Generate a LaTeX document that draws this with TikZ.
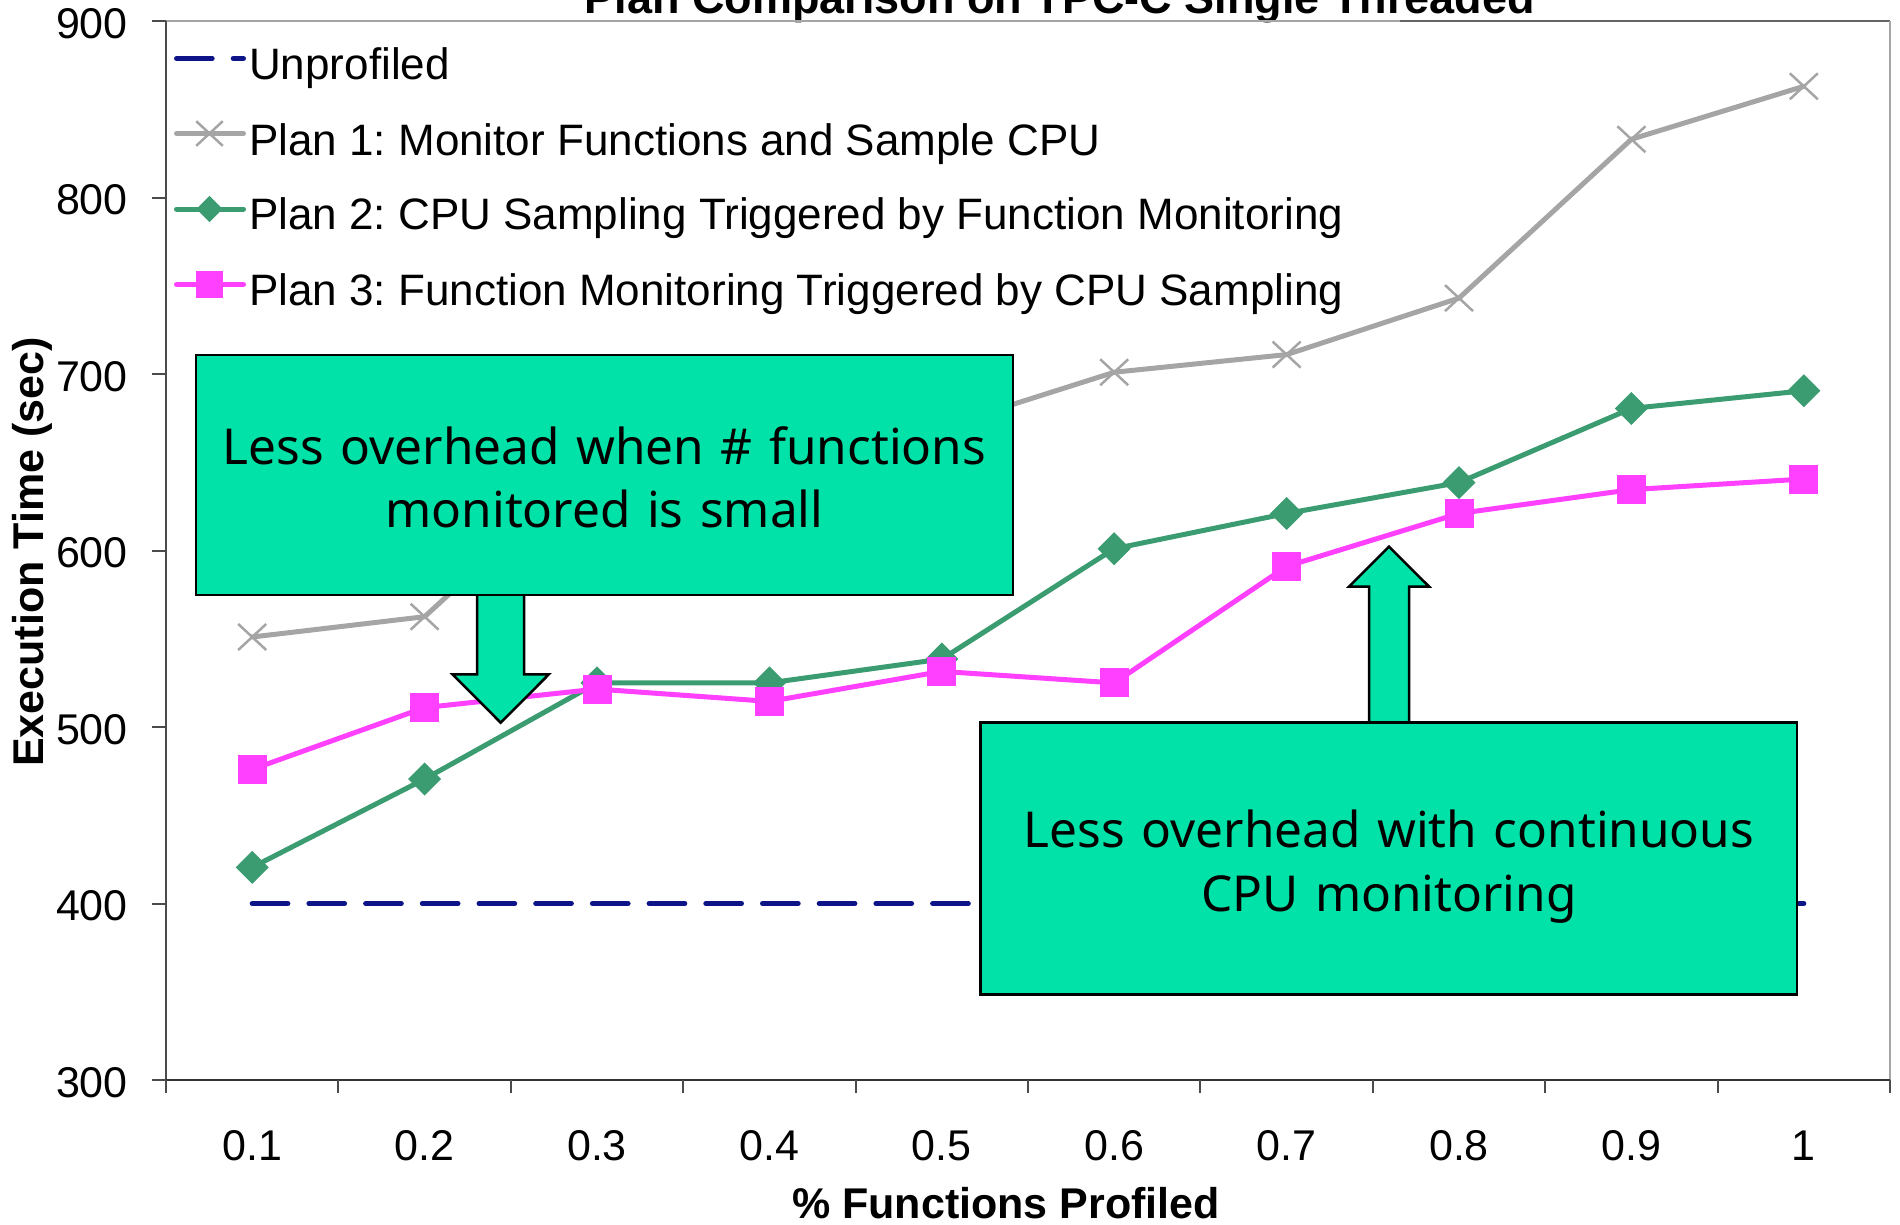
\documentclass[tikz,border=0pt]{standalone}
\usepackage{fontspec}
\setmainfont{Liberation Sans}
\newfontfamily\calloutfont{Noto Sans}
\usetikzlibrary{calc}
\frenchspacing

\definecolor{seriesgray}{RGB}{165,165,165}
\definecolor{seriesgreen}{RGB}{58,156,112}
\definecolor{seriesmagenta}{RGB}{255,64,255}
\definecolor{seriesnavy}{RGB}{12,20,135}
\definecolor{calloutfill}{RGB}{0,226,168}
\definecolor{axisdark}{RGB}{75,75,75}
\definecolor{frameline}{RGB}{165,165,165}
\definecolor{framedark}{RGB}{100,100,100}

\tikzset{
  % series markers, sized in absolute units
  crossmark/.pic={\draw[seriesgray, line width=2.5pt] (-14pt,-13pt) -- (14pt,13pt) (-14pt,13pt) -- (14pt,-13pt);},
  diamondmark/.pic={\fill[seriesgreen] (0pt,-16.5pt) -- (16.5pt,0pt) -- (0pt,16.5pt) -- (-16.5pt,0pt) -- cycle;},
  squaremark/.pic={\fill[seriesmagenta] (-14.5pt,-14.5pt) rectangle (14.5pt,14.5pt);},
  serieslinebase/.style={line width=5pt, line join=round, line cap=round},
  baselineseries/.style={serieslinebase, draw=seriesnavy, dash pattern=on 35.7pt off 21pt},
  planone/.style={serieslinebase, draw=seriesgray},
  plantwo/.style={serieslinebase, draw=seriesgreen},
  planthree/.style={serieslinebase, draw=seriesmagenta},
  axisline/.style={draw=axisdark, line width=2pt},
  ticklabel/.style={font=\fontsize{43}{50}\selectfont, inner sep=0pt},
  legendtext/.style={font=\fontsize{44}{52}\selectfont, anchor=base west, inner sep=0pt},
  axistitle/.style={font=\fontsize{43}{50}\selectfont\bfseries, inner sep=0pt, anchor=base},
  calloutbox/.style={draw=black, line width=2.5pt, fill=calloutfill, rectangle, inner sep=0pt},
  calloutarrow/.style={draw=black, line width=2.5pt, fill=calloutfill, line join=miter},
  callouttext/.style={font=\calloutfont\fontsize{49.5}{63.5}\selectfont, text width=810pt, align=center, inner sep=0pt, anchor=base},
}

\begin{document}
\begin{tikzpicture}[x=1pt,y=-1pt]
\useasboundingbox (0,0) rectangle (1900,1224);
\clip (0,0) rectangle (1900,1224);

% chart title (runs off the top edge)
\node[font=\fontsize{45}{52}\selectfont\bfseries, anchor=base, inner sep=0pt] (title) at (1059.6,13.3) {Plan Comparison on TPC-C Single Threaded};

% axis titles
\node[axistitle] (xtitle) at (1006,1218) {\% Functions Profiled};
\node[axistitle, rotate=90] (ytitle) at (43.3,552) {Execution Time (sec)};

% data space: category k at x, execution time v at y
\begin{scope}[x=172.4pt, y=1.765pt, shift={(79.8pt,-1609.5pt)}]
  % plot frame
  \draw[draw=frameline, line width=2pt] (0.5,900) -- (7.658,900);
  \draw[draw=framedark, line width=2.5pt] (7.658,900) -- (10.5,900);
  \draw[draw=frameline, line width=2pt] (10.5,900) -- (10.5,300);
  \draw[axisline] (0.5,900) -- (0.5,300);
  \draw[axisline, line width=2.5pt, draw=black!80] (0.5,300) -- (10.5,300);

  % value axis ticks and labels
  \foreach \v in {300,400,...,900} {
    \coordinate (yt\v) at (0.5,\v);
    \draw[axisline] (yt\v) -- ++(-14pt,0pt);
    \node[ticklabel, anchor=base east] (ylab\v) at ($(yt\v)+(-38pt,-17pt)$) {\v};
  }
  % category axis ticks and labels
  \foreach \k in {0,...,10} {
    \coordinate (xt\k) at (\k+0.5,300);
    \draw[axisline] (xt\k) -- ++(0pt,-13pt);
  }
  \foreach \k/\lab in {1/0.1,2/0.2,3/0.3,4/0.4,5/0.5,6/0.6,7/0.7,8/0.8,9/0.9,10/1} {
    \node[ticklabel, anchor=base] (xlab\k) at ($(\k,300)+(0pt,-80.7pt)$) {\lab};
  }

  % Unprofiled
  \coordinate (u1) at (1,400);
  \coordinate (u10) at (10,400);
  \draw[baselineseries] (u1) -- (u10);

  % Plan 1
  \foreach \k/\v in {1/551,2/562.5,3/652,4/662,5/670,6/701,7/711,8/743,9/833,10/863}
    \coordinate (a\k) at (\k,\v);
  \draw[planone] (a1) \foreach \k in {2,...,10} {-- (a\k)};
  \foreach \k in {1,...,10} \pic at (a\k) {crossmark};

  % Plan 2
  \foreach \k/\v in {1/420.5,2/470.5,3/525,4/525,5/538.5,6/601,7/621,8/638.5,9/680.5,10/690.5}
    \coordinate (b\k) at (\k,\v);
  \draw[plantwo] (b1) \foreach \k in {2,...,10} {-- (b\k)};
  \foreach \k in {1,...,10} \pic at (b\k) {diamondmark};

  % Plan 3
  \foreach \k/\v in {1/476,2/511,3/521.5,4/514.5,5/531.5,6/525,7/591,8/621,9/634.5,10/640.5}
    \coordinate (c\k) at (\k,\v);
  \draw[planthree] (c1) \foreach \k in {2,...,10} {-- (c\k)};
  \foreach \k in {1,...,10} \pic at (c\k) {squaremark};
\end{scope}

% legend
\coordinate (lg0a) at (176.5,58.5);  \coordinate (lg0b) at (243.5,58.5);
\draw[baselineseries] (lg0a) -- (lg0b);
\node[legendtext] (lgtext0) at (249,79) {Unprofiled};

\coordinate (lg1a) at (176.5,133.5); \coordinate (lg1b) at (243.5,133.5);
\draw[planone] (lg1a) -- (lg1b);
\pic[scale=0.95] at (209.5,133.5) {crossmark};
\node[legendtext] (lgtext1) at (249,155) {Plan 1: Monitor Functions and Sample CPU};

\coordinate (lg2a) at (176.5,209); \coordinate (lg2b) at (243.5,209);
\draw[plantwo] (lg2a) -- (lg2b);
\pic[scale=0.8] at (209.5,209) {diamondmark};
\node[legendtext] (lgtext2) at (249,229.5) {Plan 2: CPU Sampling Triggered by Function Monitoring};

\coordinate (lg3a) at (176.5,284.5); \coordinate (lg3b) at (243.5,284.5);
\draw[planthree] (lg3a) -- (lg3b);
\pic[scale=0.9] at (209.5,284.5) {squaremark};
\node[legendtext] (lgtext3) at (249,305) {Plan 3: Function Monitoring Triggered by CPU Sampling};

% callout: small number of monitored functions
\coordinate (tip1) at (500.7,722.7);
\filldraw[calloutarrow] ($(tip1)+(-23.5,-130)$) -- ($(tip1)+(-23.5,-48.4)$) -- ($(tip1)+(-48.2,-48.4)$)
  -- (tip1) -- ($(tip1)+(48.2,-48.4)$) -- ($(tip1)+(23.5,-48.4)$) -- ($(tip1)+(23.5,-130)$);
\node[calloutbox, minimum width=817pt, minimum height=240pt] (box1) at (604.5,475) {};
\node[callouttext] (txt1) at (604.5,464) {Less overhead when \# functions\\monitored is small};

% callout: continuous CPU monitoring
\coordinate (tip2) at (1389,546.7);
\filldraw[calloutarrow] ($(tip2)+(-20,178)$) -- ($(tip2)+(-20,40)$) -- ($(tip2)+(-40.2,40)$)
  -- (tip2) -- ($(tip2)+(40.2,40)$) -- ($(tip2)+(20,40)$) -- ($(tip2)+(20,178)$);
\node[calloutbox, minimum width=816.6pt, minimum height=272pt] (box2) at (1388.7,858.3) {};
\node[callouttext] (txt2) at (1389,847.7) {Less overhead with continuous\\CPU monitoring};
\end{tikzpicture}
\end{document}
